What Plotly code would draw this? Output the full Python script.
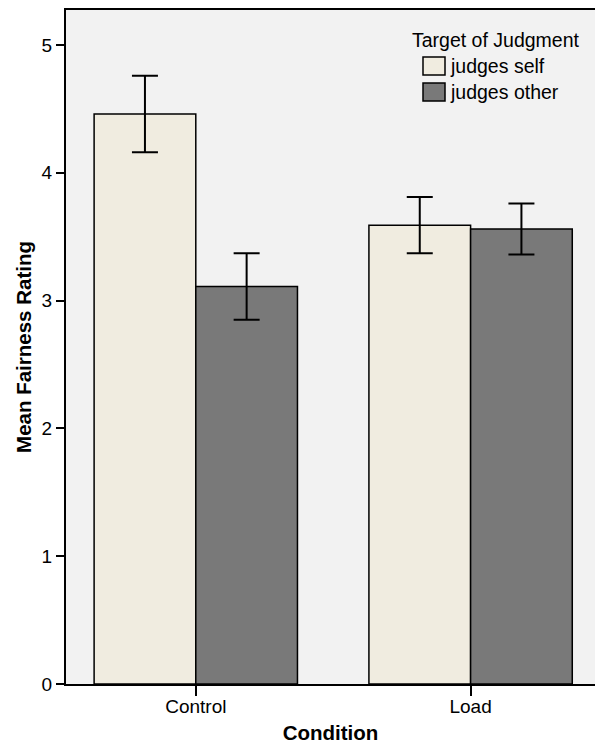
import plotly.graph_objects as go

conditions = ["Control", "Load"]
self_means = [4.46, 3.59]
self_err = [0.30, 0.22]
other_means = [3.11, 3.56]
other_err = [0.26, 0.20]
y_ticks = [0, 1, 2, 3, 4, 5]
series_names = ["judges self", "judges other"]
series_colors = ["#F0ECE0", "#797979"]
legend_title = "Target of Judgment"

FONT = "Arial, Liberation Sans, Helvetica, sans-serif"

W, H = 595, 744
ML, MR, MT, MB = 66, 0, 10, 60
PW = W - ML - MR
PH = H - MT - MB


def px(x):
    return (x - ML) / PW


def py(y):
    return (H - MB - y) / PH


fig = go.Figure()
for name, color, means, errs in [
    (series_names[0], series_colors[0], self_means, self_err),
    (series_names[1], series_colors[1], other_means, other_err),
]:
    fig.add_trace(go.Bar(
        name=name, x=conditions, y=means,
        marker=dict(color=color, line=dict(color="black", width=1.5)),
        error_y=dict(type="data", array=errs, visible=True,
                     color="black", thickness=2, width=13),
        showlegend=False,
    ))

# legend drawn as shapes + text (larger swatches like the reference)
shapes = []
annotations = [dict(
    text=legend_title, xref="paper", yref="paper",
    x=px(410), y=py(40), xanchor="left", yanchor="middle",
    showarrow=False, font=dict(size=19.5, family=FONT, color="black"),
)]
for i, (name, color) in enumerate(zip(series_names, series_colors)):
    top = 57 + 26 * i
    shapes.append(dict(
        type="rect", xref="paper", yref="paper",
        x0=px(423), x1=px(445), y0=py(top), y1=py(top + 18),
        fillcolor=color, line=dict(color="black", width=1.5),
    ))
    annotations.append(dict(
        text=name, xref="paper", yref="paper",
        x=px(448), y=py(top + 9), xanchor="left", yanchor="middle",
        showarrow=False, font=dict(size=19.5, family=FONT, color="black"),
    ))

fig.update_layout(
    width=W, height=H,
    margin=dict(l=ML, r=MR, t=MT, b=MB),
    paper_bgcolor="white",
    plot_bgcolor="#F2F2F2",
    barmode="group",
    bargap=0.26,
    bargroupgap=0,
    font=dict(family=FONT, size=19, color="black"),
    showlegend=False,
    shapes=shapes,
    annotations=annotations,
    xaxis=dict(
        range=[-0.4723, 1.4527],
        showline=True, linecolor="black", linewidth=2, mirror=True,
        ticks="outside", ticklen=10, tickwidth=2, tickcolor="black",
        ticklabelstandoff=-6,
        showgrid=False, zeroline=False,
        tickfont=dict(size=19),
        title=dict(text="<b>Condition</b>", font=dict(size=20.5), standoff=14),
    ),
    yaxis=dict(
        range=[0, 5.274],
        tickvals=y_ticks,
        showline=True, linecolor="black", linewidth=2, mirror=False,
        ticks="outside", ticklen=8, tickwidth=2, tickcolor="black",
        showgrid=False, zeroline=False,
        tickfont=dict(size=19),
        title=dict(text="<b>Mean Fairness Rating</b>", font=dict(size=20.5), standoff=4),
    ),
)

fig.write_html(
    "out.html",
    config={"displayModeBar": False},
    post_script="document.body.style.margin='0';document.body.style.overflow='hidden';",
)
